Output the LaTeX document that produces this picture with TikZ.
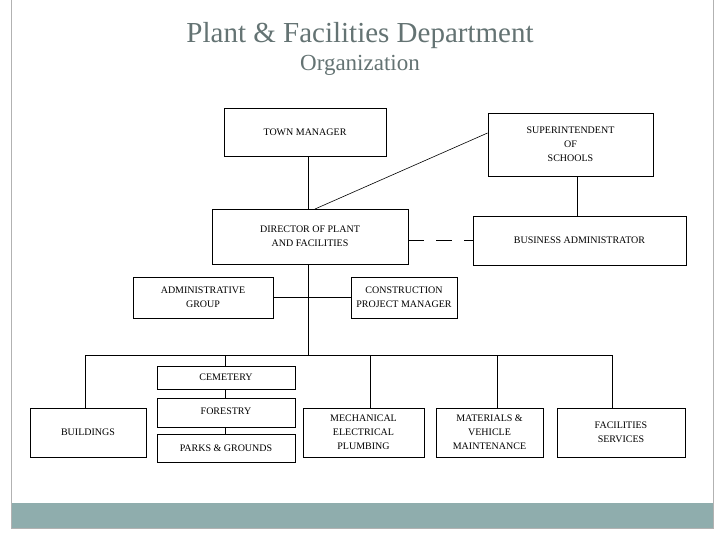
\documentclass[tikz,border=0pt]{standalone}
\usepackage{fontspec}
\setmainfont{Liberation Serif}
\begin{document}
\begin{tikzpicture}[x=1pt,y=-1pt,
  bx/.style={draw,line width=0.9pt,align=center,font=\fontsize{10}{14}\selectfont,inner sep=0pt},
  ln/.style={line width=0.9pt}]
\useasboundingbox (0,0) rectangle (720,540);
\fill[white] (0,0) rectangle (720,540);
\fill[fill={rgb,255:red,143;green,173;blue,173}] (11,503) rectangle (713,528);
\draw[gray!60] (11,0) -- (11,528) -- (713,528) -- (713,0);
\node[text={rgb,255:red,100;green,115;blue,115},font=\fontsize{29}{32}\selectfont] (t1) at (360,36) {Plant \& Facilities Department};
\node[text={rgb,255:red,100;green,115;blue,115},font=\fontsize{23}{26}\selectfont] (t2) at (360,65) {Organization};
\newcommand{\bxat}[6]{\node[bx,minimum width=#4-#2,minimum height=#5-#3] (#1) at ({(#2+#4)/2},{(#3+#5)/2}) {#6};}
\bxat{tm}{224}{108}{386}{156}{TOWN MANAGER}
\bxat{sup}{488}{113}{653}{176}{SUPERINTENDENT\\OF\\SCHOOLS}
\bxat{dir}{212}{209}{408}{264}{DIRECTOR OF PLANT\\AND FACILITIES}
\bxat{ba}{473}{216}{686}{265}{BUSINESS ADMINISTRATOR}
\bxat{ag}{133}{277}{273}{318}{ADMINISTRATIVE\\GROUP}
\bxat{cp}{351}{277}{457}{318}{CONSTRUCTION\\PROJECT MANAGER}
\bxat{cem}{157}{366}{295}{389}{CEMETERY}
\bxat{for}{157}{398}{295}{427}{}
\node[font=\fontsize{10}{14}\selectfont] (fort) at (226,411) {FORESTRY};
\bxat{pg}{157}{434}{295}{462}{PARKS \& GROUNDS}
\bxat{bld}{30}{408}{146}{457}{BUILDINGS}
\bxat{mep}{303}{408}{424}{457}{MECHANICAL\\ELECTRICAL\\PLUMBING}
\bxat{mvm}{436}{408}{543}{457}{MATERIALS \&\\VEHICLE\\MAINTENANCE}
\bxat{fs}{557}{408}{685}{457}{FACILITIES\\SERVICES}
\coordinate (j) at (308,355);
\coordinate (jl) at (85,355);
\coordinate (jr) at (612,355);
\draw[ln] (tm.south -| j) -- (dir.north -| j);
\draw[ln] (dir.south -| j) -- (j);
\draw[ln] (ag.east) -- (cp.west);
\draw[ln] (jl) -- (jr);
\draw[ln] (jl) -- (bld.north -| jl);
\draw[ln] (225,355) -- (cem.north -| 225,0);
\draw[ln] (cem.south -| 225,0) -- (for.north -| 225,0);
\draw[ln] (for.south -| 225,0) -- (pg.north -| 225,0);
\draw[ln] (370,355) -- (mep.north -| 370,0);
\draw[ln] (497,355) -- (mvm.north -| 497,0);
\draw[ln] (jr) -- (fs.north -| jr);
\draw[line width=0.6pt] (315,209) -- (sup.west |- 0,133);
\draw[ln] (sup.south -| 577,0) -- (ba.north -| 577,0);
\draw[ln,dash pattern=on 16pt off 12pt] (dir.east |- 0,240) -- (ba.west |- 0,240);
\end{tikzpicture}
\end{document}
